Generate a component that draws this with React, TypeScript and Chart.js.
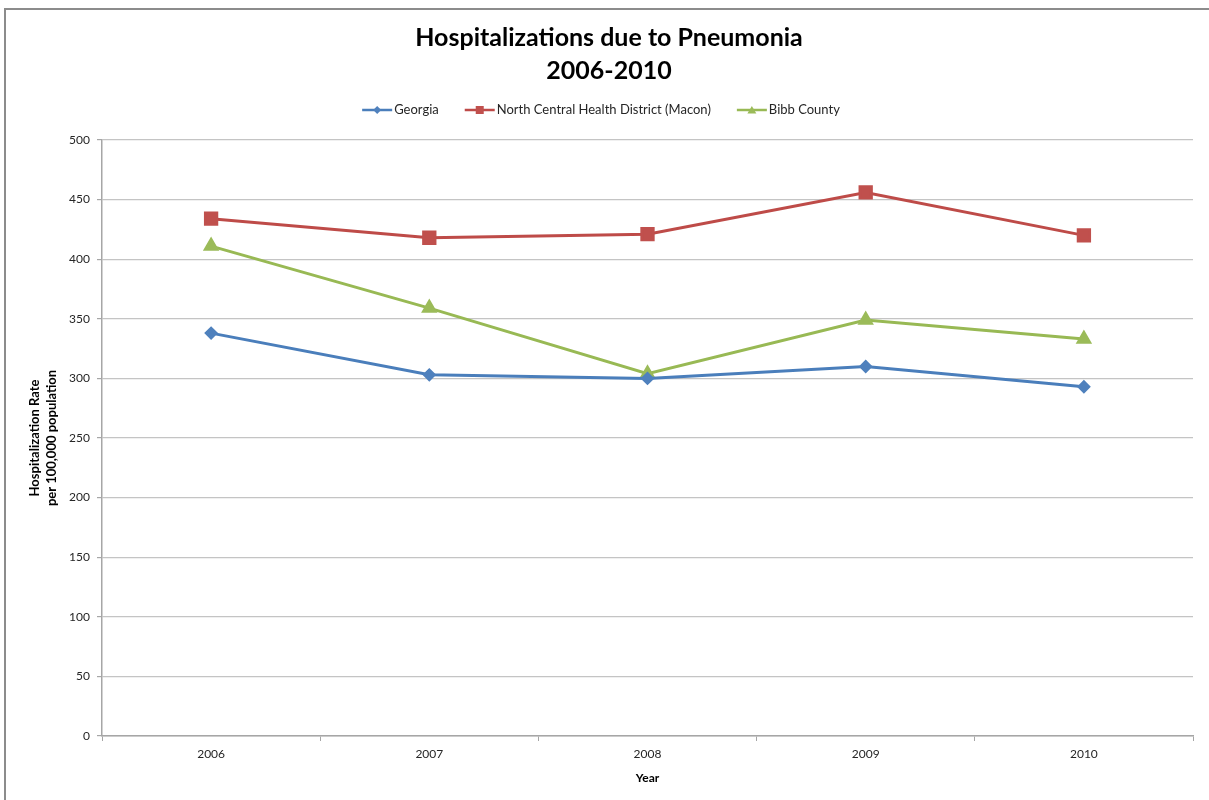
import React, { useEffect, useRef } from "react";
import { Chart, registerables } from "chart.js";

Chart.register(...registerables);

const years = ["2006", "2007", "2008", "2009", "2010"];
const georgia = [338, 303, 300, 310, 293];
const northCentral = [434, 418, 421, 456, 420];
const bibbCounty = [411, 359, 304, 349, 333];
const seriesNames = ["Georgia", "North Central Health District (Macon)", "Bibb County"];
const titleLines = ["Hospitalizations due to Pneumonia", "2006-2010"];
const yTitleLines = ["Hospitalization Rate", "per 100,000 population"];
const xTitle = "Year";

const FONT = "Lato, 'Open Sans', sans-serif";
const BLUE = "#4A7EBB";
const RED = "#BE4B48";
const GREEN = "#98B954";
const GRID = "#c4c4c4";
const AXIS = "#a6a6a6";

const frameAndLegend = {
  id: "frameAndLegend",
  beforeDraw(chart: any) {
    const ctx = chart.ctx;
    ctx.save();
    ctx.fillStyle = "#ffffff";
    ctx.fillRect(0, 0, chart.width, chart.height);
    ctx.strokeStyle = "#8c8c8c";
    ctx.lineWidth = 2;
    ctx.strokeRect(5, 9, chart.width + 10, chart.height + 10);
    ctx.restore();
  },
  afterDraw(chart: any) {
    const ctx = chart.ctx;
    ctx.save();
    ctx.font = `13px ${FONT}`;
    ctx.textBaseline = "middle";
    const lineLen = 30;
    const textGap = 2;
    const itemGap = 26;
    const ds = chart.data.datasets;
    const widths = ds.map((d: any) => lineLen + textGap + ctx.measureText(d.label).width);
    const total = widths.reduce((a: number, b: number) => a + b, 0) + itemGap * (ds.length - 1);
    let x = 601 - total / 2;
    const y = 110;
    ds.forEach((d: any, i: number) => {
      ctx.strokeStyle = d.borderColor;
      ctx.lineWidth = 2.5;
      ctx.beginPath();
      ctx.moveTo(x, y);
      ctx.lineTo(x + lineLen, y);
      ctx.stroke();
      ctx.fillStyle = d.pointBackgroundColor;
      const cx = x + lineLen / 2;
      ctx.beginPath();
      if (d.pointStyle === "rectRot") {
        ctx.moveTo(cx, y - 4);
        ctx.lineTo(cx + 4, y);
        ctx.lineTo(cx, y + 4);
        ctx.lineTo(cx - 4, y);
      } else if (d.pointStyle === "rect") {
        ctx.rect(cx - 4, y - 4, 8, 8);
      } else {
        ctx.moveTo(cx, y - 4);
        ctx.lineTo(cx + 4.5, y + 3.5);
        ctx.lineTo(cx - 4.5, y + 3.5);
      }
      ctx.closePath();
      ctx.fill();
      ctx.fillStyle = "#262626";
      ctx.textAlign = "left";
      ctx.fillText(d.label, x + lineLen + textGap, y);
      x += widths[i] + itemGap;
    });
    ctx.restore();
  },
};

export default function App() {
  const ref = useRef<HTMLCanvasElement | null>(null);
  useEffect(() => {
    if (!ref.current) return;
    const chart = new Chart(ref.current, {
      type: "line",
      data: {
        labels: years,
        datasets: [
          {
            label: seriesNames[0],
            data: georgia,
            borderColor: BLUE,
            backgroundColor: BLUE,
            pointBackgroundColor: "#4F81BD",
            pointBorderColor: "#4F81BD",
            pointStyle: "rectRot",
            pointRadius: 4.8,
            borderWidth: 3,
          },
          {
            label: seriesNames[1],
            data: northCentral,
            borderColor: RED,
            backgroundColor: RED,
            pointBackgroundColor: "#C0504D",
            pointBorderColor: "#C0504D",
            pointStyle: "rect",
            pointRadius: 8,
            borderWidth: 3,
          },
          {
            label: seriesNames[2],
            data: bibbCounty,
            borderColor: GREEN,
            backgroundColor: GREEN,
            pointBackgroundColor: "#9BBB59",
            pointBorderColor: "#9BBB59",
            pointStyle: "triangle",
            pointRadius: 6.5,
            borderWidth: 3,
          },
        ],
      },
      options: {
        animation: false,
        responsive: false,
        maintainAspectRatio: false,
        layout: { padding: { left: 25, right: 16, top: 0, bottom: 0 } },
        plugins: {
          legend: { display: false },
          tooltip: { enabled: false },
          title: {
            display: true,
            text: titleLines,
            color: "#000000",
            font: { family: FONT, size: 25, weight: "bold", lineHeight: 1.3 },
            padding: { top: 22, bottom: 53 },
          },
        },
        scales: {
          x: {
            offset: true,
            grid: {
              offset: true,
              drawOnChartArea: false,
              drawTicks: true,
              tickLength: 5,
              color: AXIS,
            },
            border: { display: true, color: AXIS, width: 1.5 },
            ticks: {
              color: "#262626",
              font: { family: FONT, size: 12 },
              padding: 6,
              maxRotation: 0,
            },
            title: {
              display: true,
              text: xTitle,
              color: "#000000",
              font: { family: FONT, size: 12, weight: "bold" },
              padding: { top: 0, bottom: 15 },
            },
            afterFit(scale: any) {
              scale.height = 64;
            },
          },
          y: {
            min: 0,
            max: 500,
            grid: {
              color: GRID,
              lineWidth: 1.2,
              drawTicks: true,
              tickLength: 5,
              tickColor: AXIS,
            },
            border: { display: true, color: AXIS, width: 1.5 },
            ticks: {
              stepSize: 50,
              color: "#262626",
              font: { family: FONT, size: 12 },
              padding: 7,
            },
            title: {
              display: true,
              text: yTitleLines,
              color: "#000000",
              font: { family: FONT, size: 13, weight: "bold", lineHeight: 1.3 },
              padding: { top: 1.5, bottom: 0 },
            },
            afterFit(scale: any) {
              scale.width = 77;
            },
          },
        },
      },
      plugins: [frameAndLegend],
    });
    return () => chart.destroy();
  }, []);
  return (
    <div style={{ position: "absolute", left: 0, top: 0, width: 1209, height: 800 }}>
      <canvas ref={ref} width={1209} height={800} style={{ width: 1209, height: 800 }} />
    </div>
  );
}
